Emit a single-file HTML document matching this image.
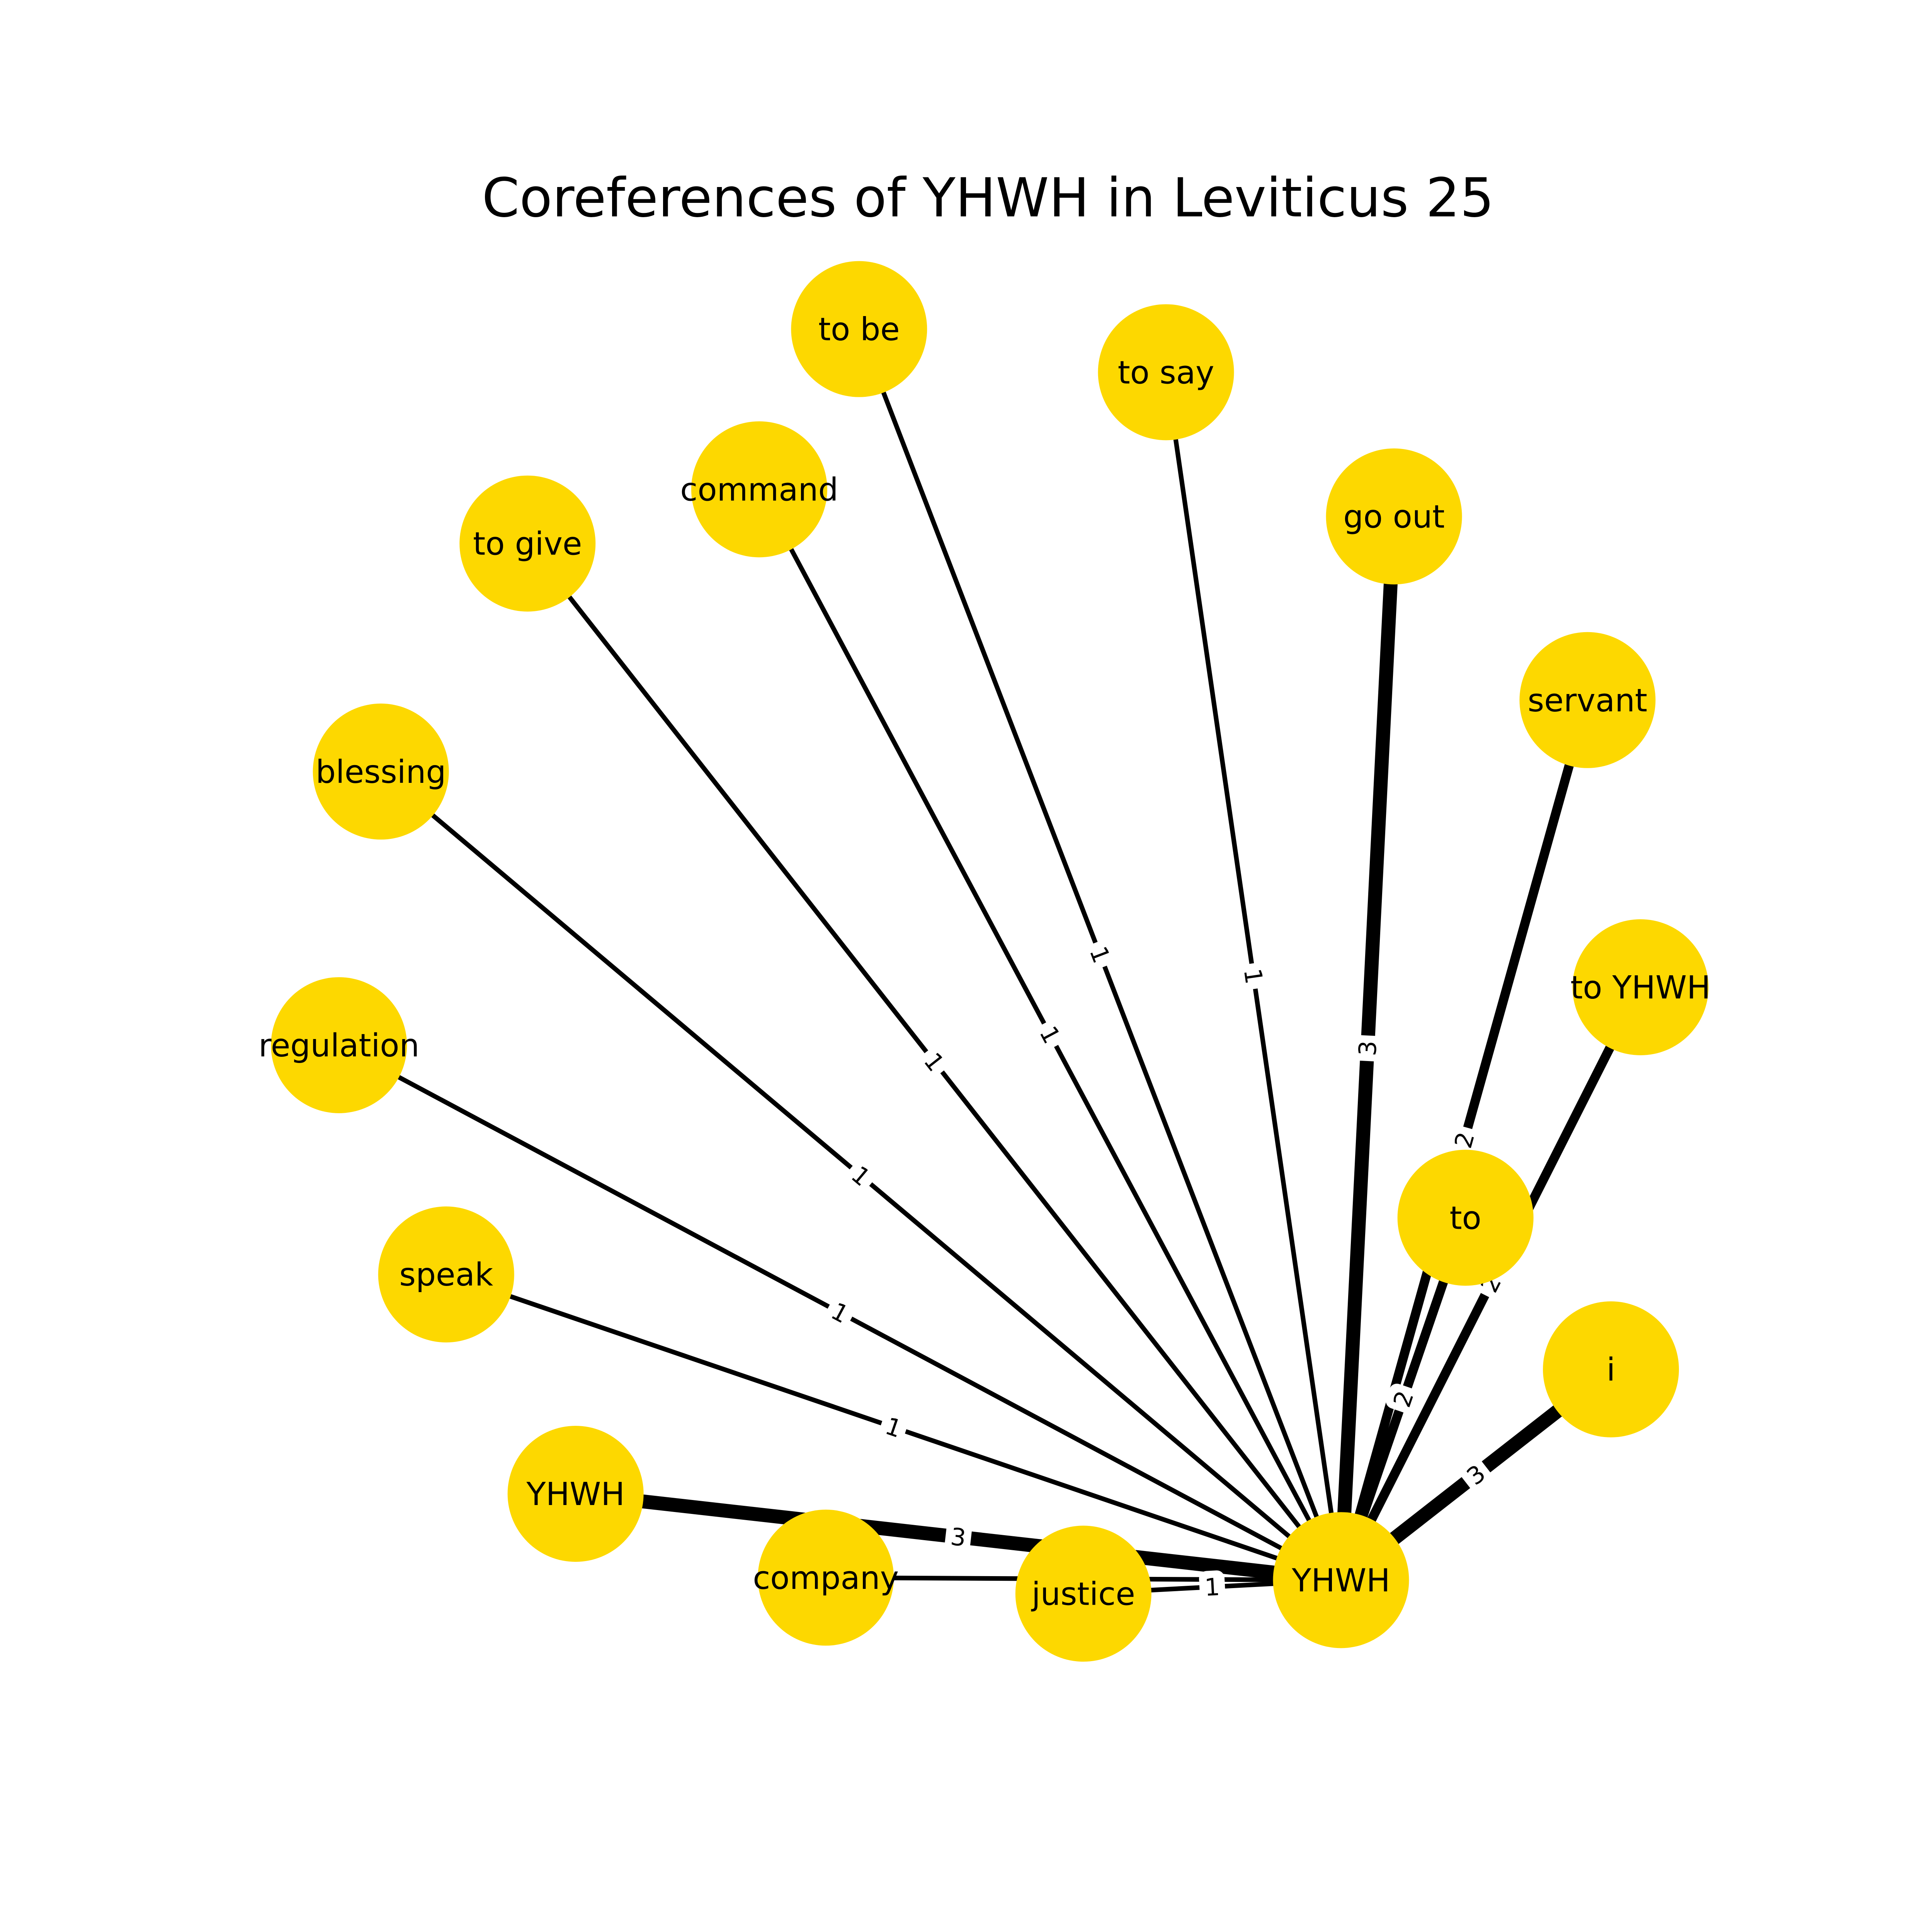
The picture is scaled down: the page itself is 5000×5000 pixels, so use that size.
<!DOCTYPE html>
<html><head><meta charset="utf-8">
<style>
html,body{margin:0;padding:0;background:#fff;}
svg{display:block;}
text{font-family:"DejaVu Sans","Liberation Sans",sans-serif;}
</style></head>
<body>
<svg id="chart" width="5000" height="5000" viewBox="0 0 5000 5000" xmlns="http://www.w3.org/2000/svg">
<rect width="5000" height="5000" fill="#fff"/>
<text x="2557" y="560" font-size="139" text-anchor="middle" fill="#000">Coreferences of YHWH in Leviticus 25</text>
<g id="edges"></g>
<g id="elabels"></g>
<g id="nodes"></g>
</svg>
<script>
const nodeNames = ["to be","to say","command","go out","to give","servant","blessing","to YHWH","regulation","to","speak","i","YHWH","company","justice","YHWH"];
const nodeX = [697,946,616,1131,428,1288,309,1331,275,1189,362,1307,467,670,879,1088];
const nodeY = [267,302,397,419,441,568,626,801,848,988,1034,1111,1212,1280,1293,1282];
const edgeSource = [0,1,2,3,4,5,7,9,6,8,10,11,12,13,14];
const edgeTarget = [15,15,15,15,15,15,15,15,15,15,15,15,15,15,15];
const edgeWeight = [1,1,1,3,1,2,2,2,1,1,1,3,3,1,1];

const S = 5000/1567.5;
const sx = v => v*S;
const sy = v => v*S;
const NS = "http://www.w3.org/2000/svg";
const R = 176;

const gE = document.getElementById('edges');
const gL = document.getElementById('elabels');
const gN = document.getElementById('nodes');

for (let i=0;i<edgeSource.length;i++){
  const a=edgeSource[i], b=edgeTarget[i];
  const x1=sx(nodeX[a]), y1=sy(nodeY[a]), x2=sx(nodeX[b]), y2=sy(nodeY[b]);
  const ln=document.createElementNS(NS,'line');
  ln.setAttribute('x1',x1);ln.setAttribute('y1',y1);ln.setAttribute('x2',x2);ln.setAttribute('y2',y2);
  ln.setAttribute('stroke','#000');ln.setAttribute('stroke-width',12*edgeWeight[i]);
  
  
  gE.appendChild(ln);
  const mx=(x1+x2)/2, my=(y1+y2)/2;
  let ang=Math.atan2(y2-y1,x2-x1)*180/Math.PI;
  if(ang>90) ang-=180; if(ang<-90) ang+=180;
  const g=document.createElementNS(NS,'g');
  g.setAttribute('transform','translate('+mx+','+my+') rotate('+ang+')');
  
  
  const bx=document.createElementNS(NS,'rect');
  bx.setAttribute('x',-33);bx.setAttribute('y',-42);bx.setAttribute('width',66);bx.setAttribute('height',84);
  bx.setAttribute('rx',20);bx.setAttribute('fill','#fff');
  
  
  g.appendChild(bx);
  const t=document.createElementNS(NS,'text');
  t.setAttribute('x',0);t.setAttribute('y',22);t.setAttribute('font-size',62);t.setAttribute('text-anchor','middle');
  t.textContent=String(edgeWeight[i]);
  
  
  g.appendChild(t);
  gL.appendChild(g);
}

for (let i=0;i<nodeNames.length;i++){
  const g=document.createElementNS(NS,'g');
  
  
  const c=document.createElementNS(NS,'circle');
  c.setAttribute('cx',sx(nodeX[i]));c.setAttribute('cy',sy(nodeY[i]));c.setAttribute('r',R);
  c.setAttribute('fill','#FDD800');
  
  
  g.appendChild(c);
  const t=document.createElementNS(NS,'text');
  t.setAttribute('x',sx(nodeX[i]));t.setAttribute('y',sy(nodeY[i])+29);
  t.setAttribute('font-size',82);t.setAttribute('text-anchor','middle');t.setAttribute('fill','#000');
  t.textContent=nodeNames[i];
  
  
  g.appendChild(t);
  gN.appendChild(g);
}
</script>
</body></html>
